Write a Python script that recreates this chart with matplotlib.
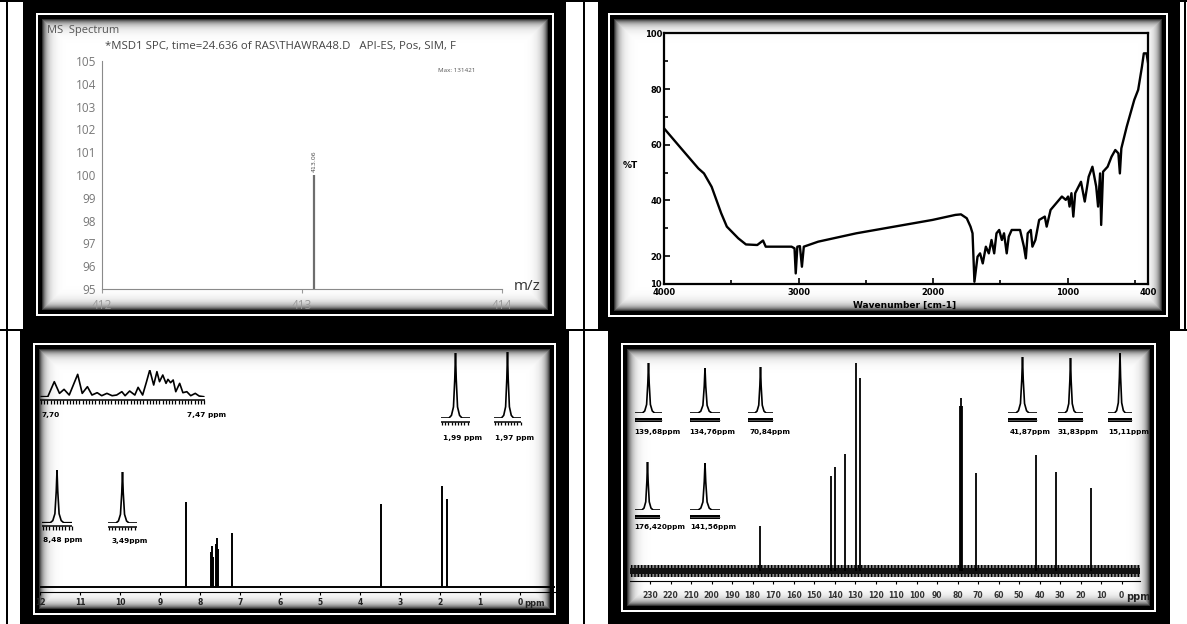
import numpy as np
import matplotlib
matplotlib.use('Agg')
import matplotlib.pyplot as plt
from matplotlib.patches import Rectangle

# ---- data ----
# MS spectrum (top left)
ms_mz = [413.06]
ms_abund = [100]
ms_yticks = [95, 96, 97, 98, 99, 100, 101, 102, 103, 104, 105]
ms_xticks = [412, 413, 414]

# IR spectrum (top right)
ir_wn = [4000, 3873, 3745, 3703, 3646, 3575, 3533, 3448, 3391, 3307,
         3264, 3244, 3052, 3030, 3021, 3009, 2990, 2975, 2961, 2854,
         2571, 2288, 2005, 1835, 1793, 1750, 1722, 1707, 1693, 1670,
         1651, 1631, 1608, 1586, 1566, 1546, 1529, 1509, 1489, 1473,
         1453, 1438, 1416, 1354, 1325, 1311, 1297, 1274, 1262, 1240,
         1212, 1170, 1156, 1127, 1085, 1043, 1014, 997, 986, 972,
         958, 944, 901, 873, 844, 816, 788, 774, 759, 751,
         737, 703, 674, 646, 623, 612, 601, 561, 505, 476,
         448, 434, 414, 400]
ir_t = [65.9, 58.7, 51.5, 49.7, 44.9, 35.4, 30.6, 26.4, 24.2, 24.0,
        25.6, 23.4, 23.4, 22.8, 13.8, 23.4, 23.6, 16.2, 23.4, 25.2,
        28.2, 30.6, 33.0, 34.8, 35.0, 33.6, 30.6, 28.2, 10.8, 19.8,
        21.0, 17.4, 23.4, 21.0, 25.8, 21.0, 28.2, 29.4, 25.8, 28.2,
        21.0, 27.0, 29.4, 29.4, 23.4, 19.2, 28.2, 29.4, 23.4, 25.8,
        33.0, 34.2, 30.6, 36.6, 39.0, 41.4, 40.2, 41.4, 37.8, 42.6,
        34.2, 42.6, 46.7, 39.6, 48.5, 52.1, 45.0, 37.8, 49.7, 31.2,
        50.3, 52.1, 55.7, 58.1, 56.9, 49.7, 58.7, 66.5, 76.1, 79.7,
        88.0, 92.8, 92.8, 88.6]
ir_xticks = [4000, 3000, 2000, 1000, 400]
ir_yticks = [10, 20, 40, 60, 80, 100]

# 1H NMR (bottom left)
h1_ppm = [8.36, 7.73, 7.71, 7.68, 7.60, 7.58, 7.55, 7.19, 3.48, 1.95, 1.83]
h1_int = [85, 35, 41, 30, 43, 49, 38, 54, 83, 101, 88]
h1_mult_ppm = [7.710, 7.700, 7.690, 7.682, 7.675, 7.667, 7.654, 7.647, 7.639, 7.632,
               7.624, 7.617, 7.609, 7.601, 7.594, 7.586, 7.581, 7.574, 7.566, 7.561,
               7.554, 7.548, 7.543, 7.537, 7.532, 7.528, 7.523, 7.518, 7.515, 7.511,
               7.507, 7.503, 7.497, 7.492, 7.486, 7.480, 7.473, 7.467, 7.460]
h1_mult_int = [0, 0, 45, 10, 22, 5, 67, 10, 30, 5,
               12, 3, 10, 3, 5, 15, 3, 17, 5, 28,
               5, 45, 80, 35, 75, 45, 65, 40, 52, 42,
               50, 15, 40, 12, 15, 3, 10, 2, 0]
h1_labels = ['8,48 ppm', '3,49ppm', '1,99 ppm', '1,97 ppm']

# 13C NMR (bottom right)
c13_ppm = [176.42, 141.56, 139.68, 134.76, 129.6, 127.8, 78.7, 78.2, 77.7, 70.84, 41.87, 31.83, 15.11]
c13_int = [45, 95, 104, 117, 208, 193, 165, 173, 165, 98, 116, 99, 83]
c13_labels = ['139,68ppm', '134,76ppm', '70,84ppm', '176,420ppm', '141,56ppm',
              '41,87ppm', '31,83ppm', '15,11ppm']

# shape of one expanded peak in the insets
peak_x = [-1, -0.45, -0.28, -0.14, -0.05, 0, 0.05, 0.14, 0.28, 0.45, 1]
peak_y = [0, 0, 0.04, 0.17, 0.6, 1, 0.6, 0.17, 0.04, 0, 0]

W, H = 1187, 624
fig = plt.figure(figsize=(W / 100, H / 100), dpi=100)

# ---- framed background (black frames with inner glow, table lines) ----
img = np.ones((H, W))
boxes = [((23, 0, 566, 330), (36, 13, 554, 316)),
         ((598, 0, 1180, 330), (608, 13, 1168, 317)),
         ((20, 330, 569, 624), (33, 343, 556, 615)),
         ((608, 330, 1170, 624), (621, 343, 1156, 612))]
yy, xx = np.mgrid[0:H, 0:W]
for (x0, y0, x1, y1), (a0, b0, a1, b1) in boxes:
    img[y0:y1, x0:x1] = 0
    img[b0:b1, a0:a1] = 1
    img[b0 + 2:b1 - 2, a0 + 2:a1 - 2] = 0
    i0, j0, i1, j1 = a0 + 5, b0 + 5, a1 - 5, b1 - 5
    sx = xx[j0:j1, i0:i1]
    sy = yy[j0:j1, i0:i1]
    d = np.minimum(np.minimum(sx - i0, i1 - 1 - sx), np.minimum(sy - j0, j1 - 1 - sy))
    img[j0:j1, i0:i1] = 1 - np.exp(-d / 4.5)
img[0:2, :] = 0
img[329:331, :] = 0
img[:, 6:8] = 0
img[:, 583:585] = 0
img[0:330, 1184:1186] = 0

bg = fig.add_axes([0, 0, 1, 1])
bg.imshow(img, cmap='gray', vmin=0, vmax=1, aspect='auto', interpolation='bilinear',
          extent=(0, W, H, 0))
bg.axis('off')


def px_axes(x0, y0, x1, y1):
    a = fig.add_axes([x0 / W, 1 - y1 / H, (x1 - x0) / W, (y1 - y0) / H])
    a.patch.set_alpha(0)
    return a


ov = px_axes(0, 0, W, H)
ov.set_xlim(0, W)
ov.set_ylim(H, 0)
ov.axis('off')
ov.set_zorder(10)

# ---- MS spectrum ----
ax = px_axes(101.6, 61, 502, 289)
ax.vlines(ms_mz, 95, ms_abund, color='#6e6e6e', lw=1.6)
for m, a in zip(ms_mz, ms_abund):
    ax.text(m, a + 0.15, f'{m:.2f}', rotation=90, ha='center', va='bottom',
            fontsize=4.5, color='#555')
ax.set_xlim(412, 414)
ax.set_ylim(95, 105)
for s in ['top', 'right']:
    ax.spines[s].set_visible(False)
for s in ['left', 'bottom']:
    ax.spines[s].set_color('#8a8a8a')
ax.set_yticks(ms_yticks)
ax.set_xticks(ms_xticks)
ax.tick_params(axis='y', length=0, pad=4, labelsize=8.5, labelcolor='#777')
ax.tick_params(axis='x', length=3, color='#999', pad=4, labelsize=8.5, labelcolor='#999')
for lbl in ax.get_xticklabels() + ax.get_yticklabels():
    lbl.set_fontfamily('Open Sans')
ov.text(514, 286, 'm/z', fontsize=11, color='#333', va='center', family='Open Sans')
ov.text(47, 30, 'MS  Spectrum', fontsize=8, color='#555', va='center', family='Open Sans')
ov.text(105, 46, '*MSD1 SPC, time=24.636 of RAS\\THAWRA48.D   API-ES, Pos, SIM, F',
        fontsize=8.2, color='#444', va='center', family='Open Sans')
ov.text(438, 71, 'Max: 131421', fontsize=4.5, color='#555', va='center', family='Open Sans')

# ---- IR spectrum ----
ax = px_axes(664, 33.3, 1148.4, 284)
ax.plot(ir_wn, ir_t, color='k', lw=1.7)
ax.set_xlim(4000, 400)
ax.set_ylim(10, 100)
for s in ax.spines.values():
    s.set_linewidth(1.6)
ax.set_xticks(ir_xticks)
ax.set_xticks([3500, 2500, 1500, 500], minor=True)
ax.set_yticks(ir_yticks)
ax.set_yticks([30, 50, 70, 90], minor=True)
ax.tick_params(which='both', direction='in', width=1.2, labelsize=6)
ax.tick_params(which='major', length=4)
ax.tick_params(which='minor', length=3)
ax.tick_params(axis='y', pad=1.5)
ax.tick_params(axis='x', pad=3)
for lbl in ax.get_xticklabels() + ax.get_yticklabels():
    lbl.set_fontweight('bold')
ov.text(630, 165, '%T', fontsize=6.5, fontweight='bold', ha='center', va='center')
ov.text(905, 305, 'Wavenumber [cm-1]', fontsize=6.5, fontweight='bold', ha='center', va='center')

# ---- 1H NMR ----
ax = px_axes(40, 345, 555, 592)
ax.axhline(0, color='k', lw=1.4)
ax.vlines(h1_ppm, 0, h1_int, color='k', lw=1.4)
ax.set_xlim(12, -0.875)
ax.set_ylim(-5, 242)
for s in ['top', 'right', 'left']:
    ax.spines[s].set_visible(False)
ax.set_yticks([])
ax.set_xticks(range(0, 13))
ax.tick_params(axis='x', direction='out', length=2.5, pad=2, labelsize=5.5, labelcolor='#222')
for lbl in ax.get_xticklabels():
    lbl.set_fontweight('bold')
ov.text(524, 603, 'ppm', fontsize=6, fontweight='bold', va='center', color='#222')


def comb(x0, x1, base):
    ov.hlines(base + 3.5, x0, x1, color='k', lw=1.1)
    ov.vlines(np.arange(x0 + 1, x1, 3.2), base + 3.5, base + 7, color='k', lw=0.9)


def bar(x0, x1, base):
    ov.add_patch(Rectangle((x0, base + 5), x1 - x0, 4, color='k', lw=0))
    ov.hlines(base + 7, x0, x1, color='#777', lw=0.5)


def peak_inset(x0, x1, top, base):
    a = px_axes(x0, top, x1, base)
    a.plot(peak_x, peak_y, color='k', lw=1.2)
    a.set_xlim(-1, 1)
    a.set_ylim(0, 1)
    a.axis('off')


# multiplet expansion 7.70 - 7.47
a = px_axes(40, 370, 205, 396.7)
a.plot(h1_mult_ppm, h1_mult_int, color='k', lw=1.2)
a.set_xlim(7.712, 7.458)
a.set_ylim(0, 80)
a.axis('off')
comb(40, 205, 396.7)
ov.text(42, 415, '7,70', fontsize=5.3, fontweight='bold', va='center')
ov.text(187, 415, '7,47 ppm', fontsize=5.3, fontweight='bold', va='center')

h1_boxes = [(42, 72, 470, 522.7), (108, 137, 472, 523), (441, 470, 353, 418), (494, 521, 352, 418)]
h1_lpos = [(43, 540), (112, 541), (443, 438), (495, 438)]
for (x0, x1, top, base), (lx, ly), txt in zip(h1_boxes, h1_lpos, h1_labels):
    peak_inset(x0, x1, top, base)
    comb(x0, x1, base)
    ov.text(lx, ly, txt, fontsize=5.3, fontweight='bold', va='center')

# ---- 13C NMR ----
ax = px_axes(630, 345, 1140, 581)
ax.fill_between([239.8, -9.0], -6, 6, facecolor='#8a8a8a', edgecolor='k', hatch='|||||', lw=0)
ax.fill_between([239.8, -9.0], -3, 3, color='#111', lw=0)
ax.vlines(c13_ppm, 0, c13_int, color='k', lw=1.3)
ax.set_xlim(239.8, -9.0)
ax.set_ylim(-10, 226)
for s in ['top', 'right', 'left']:
    ax.spines[s].set_visible(False)
ax.set_yticks([])
ax.set_xticks(range(0, 231, 10))
ax.tick_params(axis='x', direction='out', length=2, pad=5, labelsize=5.5, labelcolor='#333')
for lbl in ax.get_xticklabels():
    lbl.set_fontweight('bold')
ov.text(1126, 597, 'ppm', fontsize=7, fontweight='bold', va='center', color='#222')

c13_boxes = [(635, 662, 363, 413), (690, 720, 368, 413), (748, 773, 367, 413),
             (635, 660, 462, 510), (690, 720, 463, 510),
             (1008, 1037, 357, 413), (1058, 1083, 358, 413), (1108, 1132, 353, 413)]
c13_lpos = [(634, 432), (689, 432), (749, 432), (634, 527), (690, 527),
            (1010, 432), (1058, 432), (1108, 432)]
for (x0, x1, top, base), (lx, ly), txt in zip(c13_boxes, c13_lpos, c13_labels):
    peak_inset(x0, x1, top, base)
    bar(x0, x1, base)
    ov.text(lx, ly, txt, fontsize=5.2, fontweight='bold', va='center')

fig.savefig('out.png', dpi=100)
